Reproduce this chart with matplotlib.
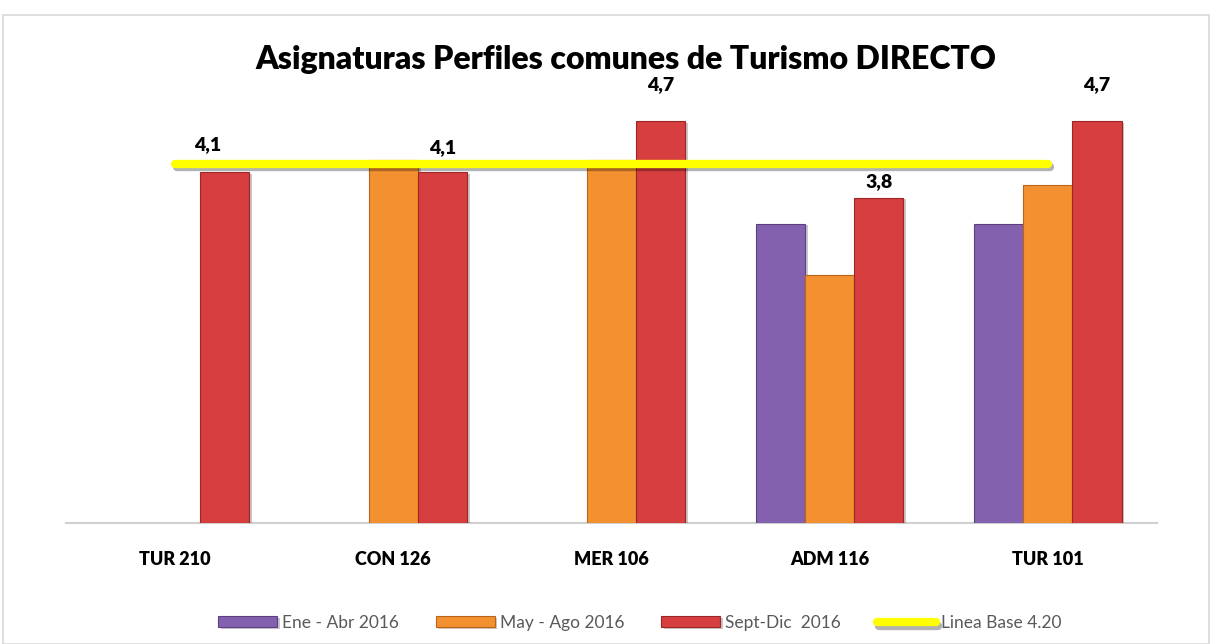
import matplotlib
matplotlib.use("Agg")
import matplotlib.pyplot as plt
import matplotlib.patheffects as pe
from matplotlib.patches import Rectangle
import numpy as np

plt.rcParams['font.family'] = ['Lato', 'DejaVu Sans']

nan = float("nan")
categorias = ["TUR 210", "CON 126", "MER 106", "ADM 116", "TUR 101"]
ene_abr = [nan, nan, nan, 3.5, 3.5]
may_ago = [nan, 4.25, 4.25, 2.9, 3.95]
sept_dic = [4.1, 4.1, 4.7, 3.8, 4.7]
etiquetas_sept = ["4,1", "4,1", "4,7", "3,8", "4,7"]
linea_base = [4.2, 4.2, 4.2, 4.2, 4.2]

series_nombres = ["Ene - Abr 2016", "May - Ago 2016", "Sept-Dic  2016", "Linea Base 4.20"]
colores = ["#8461AE", "#F39130", "#D63E3F"]
bordes = ["#5B3F80", "#B8651A", "#9A2628"]

W, H = 1213, 644
fig = plt.figure(figsize=(W / 100, H / 100), dpi=100)

# marco del grafico
fig.patches.append(Rectangle((3 / W, 0), 1206 / W, (H - 15) / H, transform=fig.transFigure,
                             fill=False, edgecolor="#D9D9D9", linewidth=1.2))

ax = fig.add_axes([66 / W, (H - 523) / H, (1157 - 66) / W, (523 - 95.5) / H])
x = np.arange(len(categorias))
ancho = 0.225

handles = []
for i, (vals, c, b) in enumerate(zip([ene_abr, may_ago, sept_dic], colores, bordes)):
    pos = x + (i - 1) * ancho
    barras = ax.bar(pos, vals, ancho, color=c, edgecolor=b, linewidth=0.8,
                    label=series_nombres[i], zorder=3)
    for r in barras:
        r.set_path_effects([pe.SimplePatchShadow(offset=(2, -1), alpha=0.25), pe.Normal()])
    handles.append(barras)

# etiquetas de la serie Sept-Dic
desplaz = [14, 12, 20, 6, 20]
for xi, v, t, d in zip(x + ancho, sept_dic, etiquetas_sept, desplaz):
    ax.annotate(t, (xi, v), xytext=(-12 if xi < 0.5 else 0, d), textcoords="offset points",
                ha="center", va="bottom", fontsize=14, fontweight="heavy", zorder=6)

linea, = ax.plot(x, linea_base, color="#FFFF00", linewidth=6, solid_capstyle="round", zorder=5,
                 label=series_nombres[3],
                 path_effects=[pe.SimpleLineShadow(offset=(1.5, -2.5), alpha=0.3), pe.Normal()])
handles.append(linea)

ax.set_xlim(-0.5, 4.5)
ax.set_ylim(0, 5)
ax.set_xticks(x)
ax.set_xticklabels(categorias, fontsize=13, fontweight="heavy")
ax.tick_params(axis="x", length=0, pad=20)
ax.set_yticks([])
for s in ["top", "right", "left"]:
    ax.spines[s].set_visible(False)
ax.spines["bottom"].set_color("#D0D0D0")
ax.spines["bottom"].set_linewidth(1.5)

fig.text(626 / W, 1 - 60 / H, "Asignaturas Perfiles comunes de Turismo DIRECTO",
         ha="center", va="center", fontsize=23, fontweight="heavy")

leg = fig.legend(handles, series_nombres, loc="center", bbox_to_anchor=(640 / W, 1 - 623 / H),
                 ncol=4, frameon=False, fontsize=12.5, handlelength=3.4, handleheight=0.6,
                 columnspacing=2.1, handletextpad=0.3)
for t in leg.get_texts():
    t.set_color("#595959")

fig.savefig("out.png", dpi=100)
